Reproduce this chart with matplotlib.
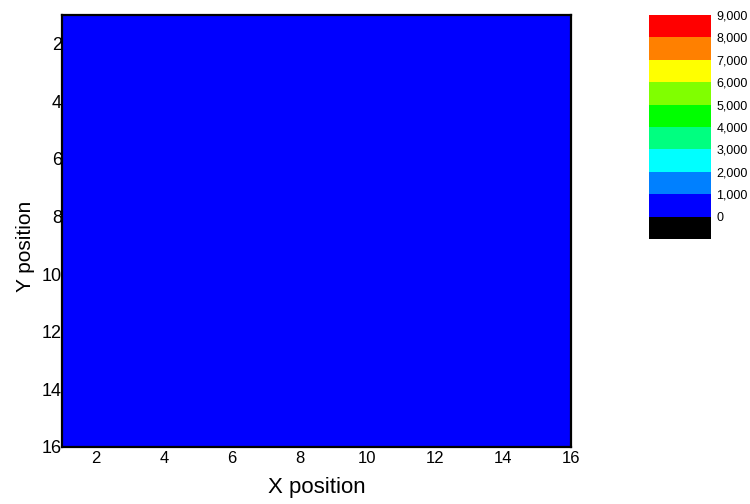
import numpy as np
import matplotlib
matplotlib.use("Agg")
from matplotlib import pyplot as plt
from matplotlib.colors import ListedColormap, BoundaryNorm

plt.rcParams["font.family"] = ["Liberation Sans", "DejaVu Sans"]

# grid positions (cell centres) and values - every cell reads in the 0-1,000 band
x_pos = list(range(1, 17))
y_pos = list(range(1, 17))
z_values = [[500] * 16 for _ in range(16)]

levels = [-1000, 0, 1000, 2000, 3000, 4000, 5000, 6000, 7000, 8000, 9000]
level_colors = ["#000000", "#0000ff", "#0080ff", "#00ffff", "#00ff80",
                "#00ff00", "#80ff00", "#ffff00", "#ff8000", "#ff0000"]
tick_vals = [0, 1000, 2000, 3000, 4000, 5000, 6000, 7000, 8000, 9000]
axis_ticks = [2, 4, 6, 8, 10, 12, 14, 16]

cmap = ListedColormap(level_colors)
norm = BoundaryNorm(levels, cmap.N)

fig = plt.figure(figsize=(7.5, 5.04), dpi=100)
W, H = 750, 504
ax = fig.add_axes([62 / W, 1 - 447 / H, (571 - 62) / W, (447 - 15) / H])

mesh = ax.pcolormesh(x_pos, y_pos, np.array(z_values), cmap=cmap, norm=norm,
                     shading="nearest")
ax.set_xlim(1, 16)
ax.set_ylim(16, 1)
ax.set_xticks(axis_ticks)
ax.set_yticks(axis_ticks)
ax.tick_params(length=0)
ax.tick_params(axis="y", pad=0, labelsize=13)
ax.tick_params(axis="x", pad=3, labelsize=12)
for s in ax.spines.values():
    s.set_linewidth(1.6)
ax.set_xlabel("X position", fontsize=16, labelpad=8)
ax.set_ylabel("Y position", fontsize=15)
ax.yaxis.set_label_coords(-0.053, 0.465)

cax = fig.add_axes([649 / W, 1 - 239 / H, 62 / W, (239 - 15) / H])
cb = fig.colorbar(mesh, cax=cax, boundaries=levels, spacing="uniform")
cb.outline.set_visible(False)
cb.set_ticks(tick_vals)
cb.set_ticklabels([f"{v:,}" for v in tick_vals])
cax.minorticks_off()
cax.tick_params(which="both", length=0, labelsize=9, pad=4)

fig.savefig("out.png", dpi=100)
